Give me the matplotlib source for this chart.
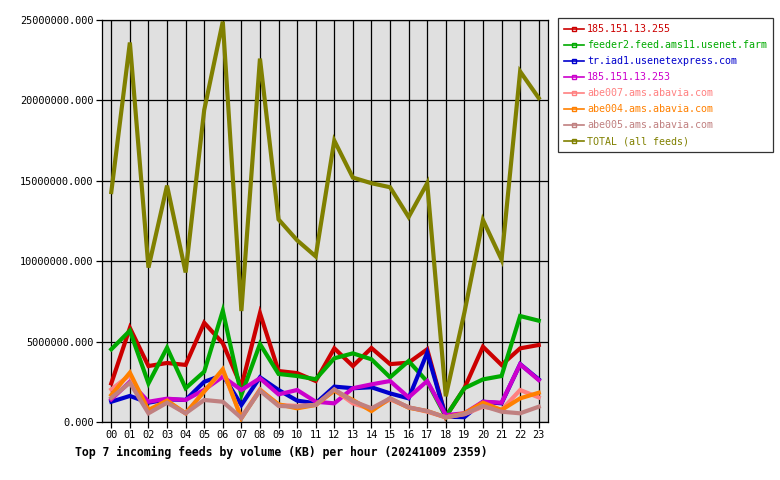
import matplotlib
matplotlib.use("Agg")
import matplotlib.pyplot as plt
from matplotlib.lines import Line2D

hours = ["%02d" % h for h in range(24)]

feed_names = [
    "185.151.13.255",
    "feeder2.feed.ams11.usenet.farm",
    "tr.iad1.usenetexpress.com",
    "185.151.13.253",
    "abe007.ams.abavia.com",
    "abe004.ams.abavia.com",
    "abe005.ams.abavia.com",
    "TOTAL (all feeds)",
]

red_255 = [2.4, 5.85, 3.48, 3.67, 3.55, 6.17, 4.9, 2.2, 6.77, 3.17, 3.04, 2.55,
           4.58, 3.48, 4.6, 3.6, 3.69, 4.52, 0.33, 2.1, 4.68, 3.55, 4.58, 4.79]
feeder2 = [4.52, 5.68, 2.4, 4.62, 2.1, 3.13, 6.92, 1.68, 4.85, 2.99, 2.86, 2.66,
           3.96, 4.27, 3.9, 2.78, 3.79, 2.51, 0.33, 2.1, 2.65, 2.86, 6.59, 6.3]
tr_iad1 = [1.26, 1.62, 1.2, 1.41, 1.37, 2.5, 2.92, 1.06, 2.78, 1.99, 1.33, 1.16,
           2.2, 2.1, 2.16, 1.78, 1.47, 4.31, 0.33, 0.3, 1.26, 1.16, 3.6, 2.65]
mag_253 = [1.41, 2.5, 1.26, 1.45, 1.37, 2.0, 2.82, 1.99, 2.72, 1.72, 1.99, 1.26,
           1.16, 2.1, 2.34, 2.55, 1.53, 2.55, 0.43, 0.54, 1.26, 1.2, 3.59, 2.61]
abe007 = [2.03, 2.92, 0.64, 1.3, 0.54, 1.9, 3.19, 0.29, 2.03, 1.06, 1.0, 1.06,
          1.99, 1.16, 0.79, 1.41, 0.91, 0.64, 0.29, 0.48, 0.95, 0.75, 1.99, 1.53]
abe004 = [1.68, 3.07, 0.75, 1.33, 0.54, 1.9, 3.28, 0.23, 1.99, 1.1, 0.85, 1.06,
          1.95, 1.37, 0.68, 1.47, 0.89, 0.68, 0.29, 0.54, 1.2, 0.75, 1.47, 1.82]
abe005 = [1.5, 2.44, 0.54, 1.2, 0.54, 1.37, 1.26, 0.25, 1.95, 1.0, 0.95, 1.06,
          2.03, 1.3, 0.85, 1.47, 0.91, 0.68, 0.29, 0.5, 1.0, 0.64, 0.54, 0.95]
total = [14.3, 23.6, 9.6, 14.7, 9.3, 19.4, 24.9, 6.9, 22.6, 12.6, 11.3, 10.3,
         17.5, 15.2, 14.85, 14.6, 12.75, 14.85, 1.6, 6.8, 12.56, 10.1, 21.8, 20.15]

series = [red_255, feeder2, tr_iad1, mag_253, abe007, abe004, abe005, total]
colors = ["#CC0000", "#00AA00", "#0000CC", "#CC00CC",
          "#FF8080", "#FF8000", "#C08080", "#808000"]

yticks = [0, 5, 10, 15, 20, 25]
ytick_labels = ["%.3f" % (v * 1e6) for v in yticks]

mono = "DejaVu Sans Mono"

fig = plt.figure(figsize=(7.8, 4.8), dpi=100)
ax = fig.add_axes([102 / 780, 58 / 480, 446 / 780, 402 / 480])
ax.set_facecolor("#E0E0E0")

x = list(range(24))
for vals, c in zip(series, colors):
    ax.plot(x, [v * 1e6 for v in vals], color=c, lw=3.0, solid_joinstyle="miter",
            zorder=3)

ax.set_xlim(-0.5, 23.5)
ax.set_ylim(0, 25e6)
ax.set_xticks(x)
ax.set_xticklabels(hours, family=mono, fontsize=7.4)
ax.set_yticks([v * 1e6 for v in yticks])
ax.set_yticklabels(ytick_labels, family=mono, fontsize=7.4)
ax.grid(True, color="black", lw=0.9, zorder=1)
ax.set_axisbelow(True)
ax.tick_params(axis="both", length=4, width=0.9, color="black", pad=2)
for s in ax.spines.values():
    s.set_color("black")
    s.set_linewidth(0.9)

fig.text(75 / 780, 1 - 452 / 480, "Top 7 incoming feeds by volume (KB) per hour (20241009 2359)",
         family=mono, fontsize=8.3, fontweight="bold", va="center", ha="left")

handles = [Line2D([0, 0.5, 1], [0, 0, 0], color=c, lw=1.2, marker="s", markersize=2.5,
                  markerfacecolor="none", markeredgecolor=c, markevery=[1])
           for c in colors]
leg = fig.legend(handles, feed_names, loc="upper left",
                 bbox_to_anchor=(558 / 780, 1 - 18 / 480),
                 prop={"family": mono, "size": 7.2}, frameon=True, fancybox=False,
                 edgecolor="black", handlelength=2.0, handletextpad=0.3,
                 labelspacing=0.6, borderpad=0.6, borderaxespad=0)
leg.get_frame().set_linewidth(0.9)
for t, c in zip(leg.get_texts(), colors):
    t.set_color(c)

fig.savefig("out.png", dpi=100)
